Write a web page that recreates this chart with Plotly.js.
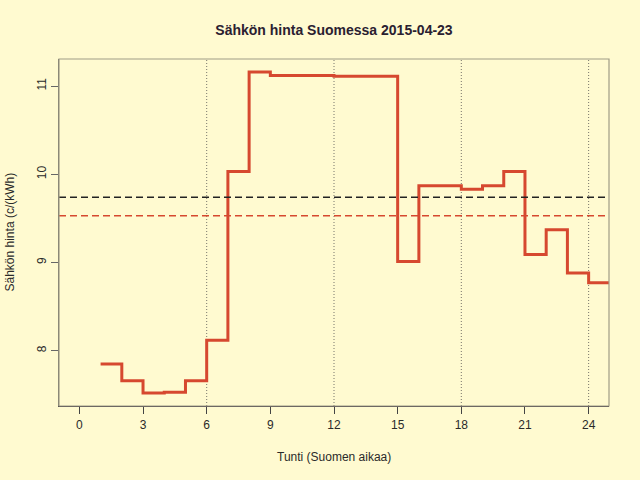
<!DOCTYPE html>
<html>
<head>
<meta charset="utf-8">
<script src="https://cdn.plot.ly/plotly-3.0.1.min.js"></script>
<style>
html,body{margin:0;padding:0;background:#FFFAD0;}
#chart{width:640px;height:480px;}
</style>
</head>
<body>
<div id="chart"></div>
<script>
// Data
var hours = [1,2,3,4,5,6,7,8,9,10,11,12,13,14,15,16,17,18,19,20,21,22,23,24,25];
var prices = [7.85,7.66,7.52,7.53,7.66,8.12,10.03,11.16,11.12,11.12,11.12,11.11,11.11,11.11,9.01,9.87,9.87,9.83,9.87,10.03,9.09,9.37,8.88,8.77,8.77];
var refLevel = 9.74;     // black dashed line
var dayMean = 9.53;      // red dashed line
var gridHours = [6,12,18,24];
var xTicks = [0,3,6,9,12,15,18,21,24];
var yTicks = [8,9,10,11];
var titleText = 'Sähkön hinta Suomessa 2015-04-23';
var xLabel = 'Tunti (Suomen aikaa)';
var yLabel = 'Sähkön hinta (c/(kWh)';

var red = '#D6482F';
var font = 'Liberation Sans, Arial, sans-serif';

var traces = [{
  x: hours, y: prices, type: 'scatter', mode: 'lines',
  line: {shape: 'hv', color: red, width: 3},
  hoverinfo: 'skip', cliponaxis: true
}];

var shapes = [];
gridHours.forEach(function(h){
  shapes.push({type:'line', xref:'x', yref:'paper', x0:h, x1:h, y0:0, y1:1,
    line:{color:'#77746a', width:1, dash:'1px,2px'}, layer:'below'});
});
shapes.push({type:'line', xref:'paper', yref:'y', x0:0, x1:1, y0:refLevel, y1:refLevel,
  line:{color:'#222222', width:1.6, dash:'7px,4px'}});
shapes.push({type:'line', xref:'paper', yref:'y', x0:0, x1:1, y0:dayMean, y1:dayMean,
  line:{color:red, width:1.3, dash:'7px,4px'}});
// plot box
shapes.push({type:'rect', xref:'paper', yref:'paper', x0:0, x1:1, y0:0, y1:1,
  line:{color:'#a09c86', width:1.2}, fillcolor:'rgba(0,0,0,0)'});

var layout = {
  width:640, height:480,
  paper_bgcolor:'#FFFAD0', plot_bgcolor:'#FFFAD0',
  margin:{l:59, r:31, t:59, b:74, pad:0},
  showlegend:false,
  font:{family:font, size:12, color:'#2a2a2a'},
  title:{text:'<b>'+titleText+'</b>', font:{family:font, size:14, color:'#2a2030'},
    x:0.5, xref:'paper', y:1-30/480, yref:'container', yanchor:'middle'},
  xaxis:{range:[-0.96,24.96], tickvals:xTicks, ticktext:xTicks.map(String),
    ticks:'outside', ticklen:7, tickwidth:1, tickcolor:'#444',
    showgrid:false, zeroline:false, showline:true, linecolor:'#3a3540', linewidth:1.4,
    tickfont:{size:12, color:'#2a2a2a'}, fixedrange:true},
  yaxis:{range:[7.374,11.306], tickvals:yTicks, ticktext:yTicks.map(String),
    ticks:'outside', ticklen:7, tickwidth:1, tickcolor:'#666',
    tickangle:-90, showgrid:false, zeroline:false, showline:true, linecolor:'#6e6a60', linewidth:1.4,
    tickfont:{size:12, color:'#2a2a2a'}, fixedrange:true},
  shapes: shapes,
  annotations:[
    {text:xLabel, xref:'paper', yref:'paper', x:0.5, y:0, yanchor:'middle', xanchor:'center',
     yshift:-51, showarrow:false, font:{family:font, size:12, color:'#2a2a2a'}},
    {text:yLabel, xref:'paper', yref:'paper', x:0, y:0.5, xanchor:'center', yanchor:'middle',
     xshift:-50, textangle:-90, showarrow:false, font:{family:font, size:12, color:'#2a2a2a'}}
  ]
};

Plotly.newPlot('chart', traces, layout, {staticPlot:true, displayModeBar:false});
</script>
</body>
</html>
